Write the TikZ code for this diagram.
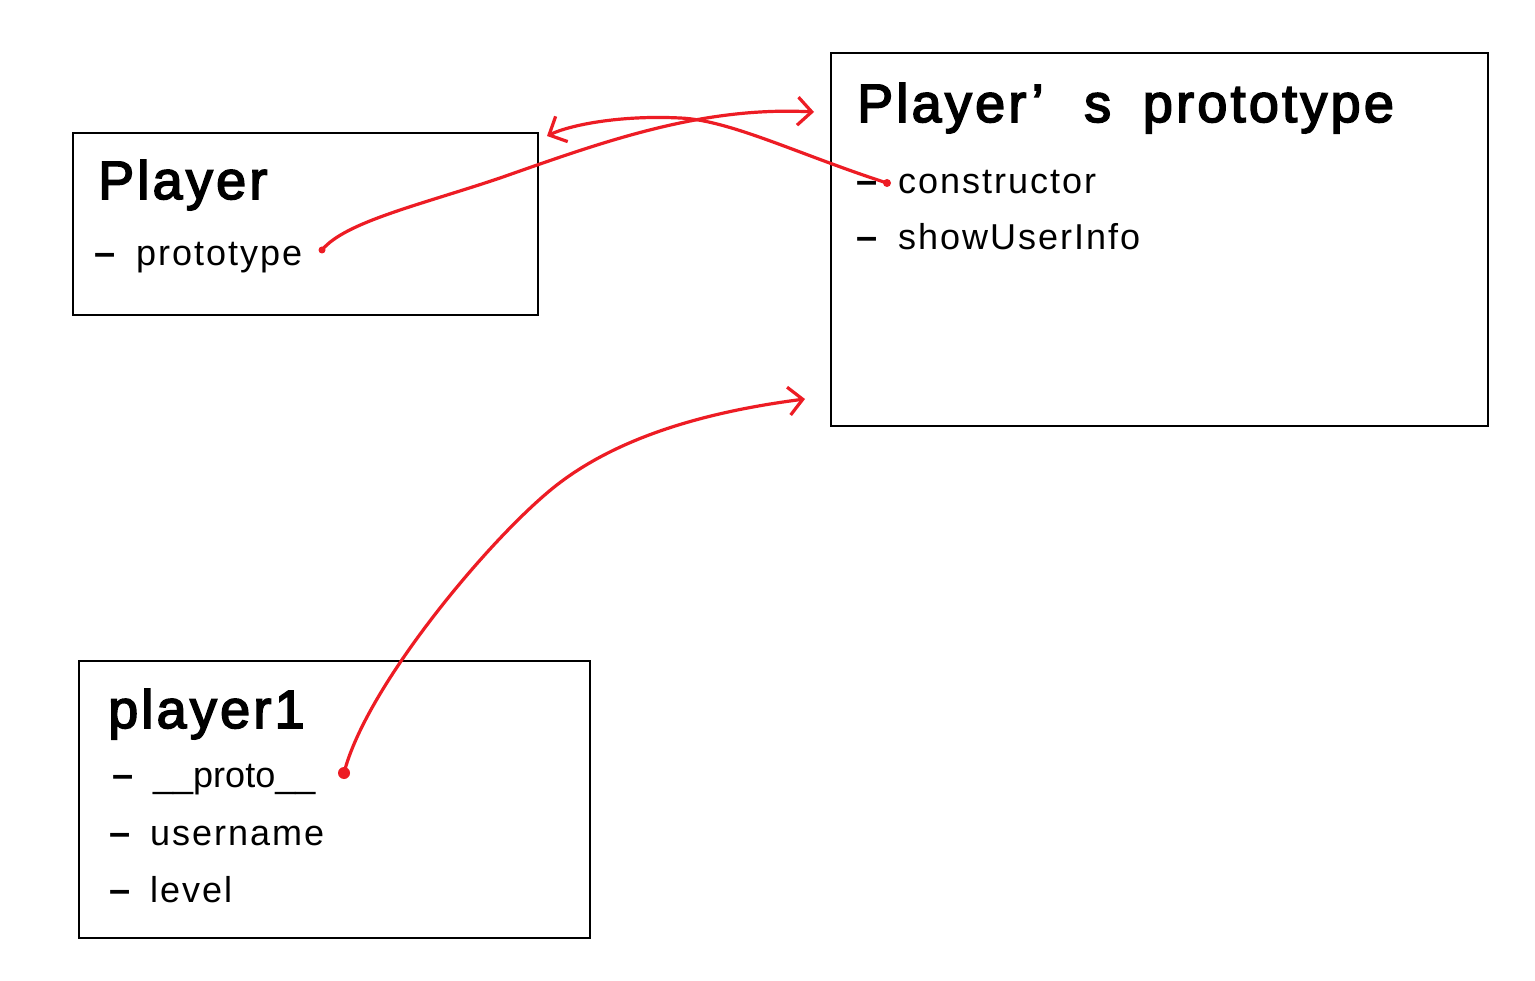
\documentclass[tikz,border=0pt]{standalone}
\usepackage{fontspec}
\setmainfont{Liberation Sans}
\newfontfamily\itemfont[LetterSpace=5.5]{Liberation Sans}
\newfontfamily\plainitemfont{Liberation Sans}
\newfontfamily\headfont[LetterSpace=6,FakeBold=3]{Liberation Sans}
\usetikzlibrary{arrows.meta}
\begin{document}
\begin{tikzpicture}[x=1pt,y=-1pt,
  box/.style={draw=black,line width=2.6pt},
  heading/.style={anchor=base west,inner sep=0pt,font=\fontsize{54}{60}\headfont},
  item/.style={anchor=base west,inner sep=0pt,font=\fontsize{36}{42}\itemfont},
  bar/.style={anchor=base west,inner sep=0pt,font=\fontsize{38}{42}\bfseries},
  link/.style={draw={rgb,255:red,237;green,28;blue,36},line width=3.2pt,line cap=round,line join=round},
  tip/.style={-{Straight Barb[length=14pt,width=28pt,line width=3.2pt]}},
  dot/.style={circle,fill={rgb,255:red,237;green,28;blue,36},inner sep=0pt,minimum size=8pt}]
\useasboundingbox (0,0) rectangle (1535,981);
\fill[white] (0,0) rectangle (1535,981);
% boxes
\draw[box] (73,133) rectangle (538,315);
\draw[box] (831,53) rectangle (1488,426);
\draw[box] (79,661) rectangle (590,938);
% Player
\node[heading] (playerT) at (98,199) {Player};
\node[bar] (playerD1) at (94,266) {–};
\node[item] (playerI1) at (136,266) {prototype};
% Player's prototype
\node[heading] (protoT) at (857,122) {Player’\hspace{0.75em}s\hspace{0.25em} prototype};
\node[bar] (protoD1) at (856,194) {–};
\node[item] (protoI1) at (898,194) {constructor};
\node[bar] (protoD2) at (856,250) {–};
\node[item] (protoI2) at (898,250) {showUserInfo};
% player1
\node[heading] (p1T) at (108,728) {player1};
\node[bar] (p1D1) at (112,787) {–};
\node[item,font=\fontsize{36}{42}\plainitemfont] (p1I1) at (153,787) {\_\_proto\_\_};
\node[bar] (p1D2) at (109,845) {–};
\node[item] (p1I2) at (150,845) {username};
\node[bar] (p1D3) at (109,902) {–};
\node[item] (p1I3) at (150,902) {level};
% dots and arrow ends
\node[dot,minimum size=7pt] (d1) at (322,250) {};
\node[dot] (d2) at (887,183) {};
\node[dot,minimum size=12pt] (d3) at (344,773) {};
\coordinate (e1) at (814,112);
\coordinate (e2) at (547,136);
\coordinate (e3) at (805,399);
% links
\draw[link,tip] (d1.center) .. controls (345,222) and (420,205) .. (500,178)
   .. controls (600,143) and (700,106) .. (e1);
\draw[link,tip] (d2.center) .. controls (800,155) and (730,120) .. (680,118)
   .. controls (620,115) and (570,125) .. (e2);
\draw[link,tip] (d3.center) .. controls (365,690) and (480,550) .. (547,493)
   .. controls (617,433) and (720,410) .. (e3);
\end{tikzpicture}
\end{document}
